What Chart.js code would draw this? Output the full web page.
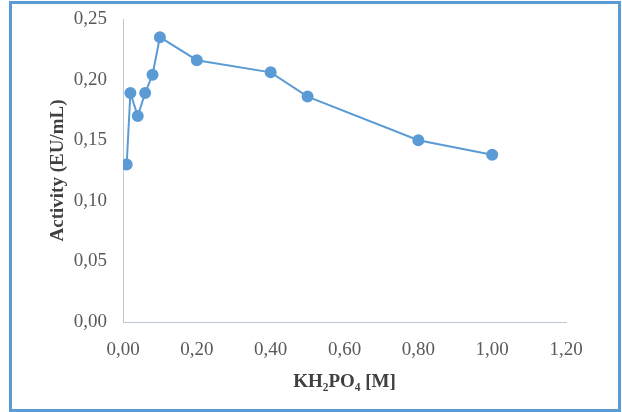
<!DOCTYPE html>
<html>
<head>
<meta charset="utf-8">
<script src="https://cdn.jsdelivr.net/npm/chart.js@4/dist/chart.umd.min.js"></script>
<style>
    body { margin: 0; background: #ffffff; }
    #wrap { position: relative; width: 622px; height: 412px; }
    #frame {
        position: absolute; left: 9px; top: 1px; width: 612px; height: 411px;
        border: 3px solid #5b9bd5; box-sizing: border-box; pointer-events: none;
    }
</style>
</head>
<body>
<div id="wrap">
    <canvas id="activityChart" width="622" height="412"></canvas>
    <div id="frame"></div>
</div>
<script>
// KH2PO4 concentration [M] and measured activity (EU/mL)
const concentration = [0.01, 0.02, 0.04, 0.06, 0.08, 0.10, 0.20, 0.40, 0.50, 0.80, 1.00];
const activity = [0.130, 0.189, 0.170, 0.189, 0.204, 0.235, 0.216, 0.206, 0.186, 0.150, 0.138];

const xTitle = 'KH₂PO₄ [M]';
const yTitle = 'Activity (EU/mL)';

const points = [];
for (let i = 0; i < concentration.length; i++) {
    points.push({x: concentration[i], y: activity[i]});
}

function commaLabel(value){
    return Number(value).toFixed(2).replace('.', ',');
}

const tickFont = {family: "'Liberation Serif', 'Times New Roman', serif", size: 19};
const titleFont = {family: "'Liberation Serif', 'Times New Roman', serif", size: 19, weight: 'bold'};

const activityConfig = {
    type: 'scatter',
    data: {
        datasets: [{
            label: 'Activity',
            data: points,
            showLine: true,
            borderColor: '#5b9bd5',
            backgroundColor: '#5b9bd5',
            borderWidth: 2,
            pointRadius: 5,
            pointHoverRadius: 5
        }]
    },
    options: {
        responsive: false,
        animation: false,
        layout: {padding: {top: 19, right: 56, bottom: 0, left: 0}},
        plugins: {
            legend: {display: false},
            tooltip: {enabled: false}
        },
        scales: {
            x: {
                type: 'linear',
                min: 0,
                max: 1.2,
                grid: {display: false, drawTicks: false},
                border: {display: true, color: '#bcc6d6', width: 1},
                ticks: {stepSize: 0.2, padding: 17, color: '#595959', font: tickFont, callback: commaLabel},
                title: {display: true, text: xTitle, color: '#404040', font: titleFont, padding: {top: 0, bottom: 19}},
                afterFit: function(scale){ scale.height = 90; }
            },
            y: {
                min: 0,
                max: 0.25,
                grid: {display: false, drawTicks: false},
                border: {display: true, color: '#bcc6d6', width: 1},
                ticks: {stepSize: 0.05, padding: 16, color: '#595959', font: tickFont, callback: commaLabel},
                title: {display: true, text: yTitle, color: '#404040', font: titleFont, padding: {top: 47, bottom: 0}},
                afterFit: function(scale){
                    scale.width = 123;
                    // tick padding would otherwise push the plot area down
                    scale.paddingTop = 10;
                    scale.paddingBottom = 0;
                }
            }
        }
    }
};

new Chart(document.getElementById('activityChart'), activityConfig);
</script>
</body>
</html>
